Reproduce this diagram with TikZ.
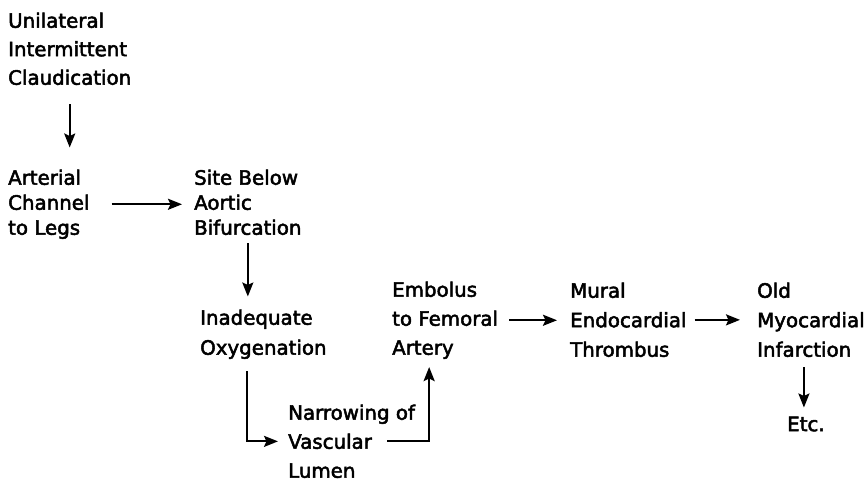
\documentclass[tikz,border=0pt]{standalone}
\usepackage{fontspec}
\setmainfont{DejaVu Sans}
\newfontfamily\lblfont{DejaVu Sans}[FakeBold=2.5]
\usetikzlibrary{arrows.meta,calc}
\begin{document}
\begin{tikzpicture}[x=1pt,y=-1pt,
  lbl/.style={anchor=north west, inner sep=0pt, align=left},
  arr/.style={line width=2.2pt, -{Stealth[length=14pt,width=11pt,inset=2.5pt]}}]
\useasboundingbox (0,0) rectangle (868,481);
\node[lbl, font=\lblfont\fontsize{19.8}{28.5}\selectfont] (uic) at (8,12.5) {Unilateral\\Intermittent\\Claudication};
\node[lbl, font=\lblfont\fontsize{19.8}{25}\selectfont] (acl) at (8,169.5) {Arterial\\Channel\\to Legs};
\node[lbl, font=\lblfont\fontsize{19.8}{25}\selectfont] (sbab) at (194,169.5) {Site Below\\Aortic\\Bifurcation};
\node[lbl, font=\lblfont\fontsize{19.8}{30}\selectfont] (io) at (200,309.5) {Inadequate\\Oxygenation};
\node[lbl, font=\lblfont\fontsize{19.8}{29}\selectfont] (now) at (288,404.5) {Narrowing of\\Vascular\\Lumen};
\node[lbl, font=\lblfont\fontsize{19.8}{29}\selectfont] (eft) at (392,281.5) {Embolus\\to Femoral\\Artery};
\node[lbl, font=\lblfont\fontsize{19.8}{29.5}\selectfont] (met) at (570,282.5) {Mural\\Endocardial\\Thrombus};
\node[lbl, font=\lblfont\fontsize{19.8}{29.5}\selectfont] (omi) at (757,282.5) {Old\\Myocardial\\Infarction};
\node[lbl, font=\lblfont\fontsize{19.8}{29.5}\selectfont] (etc) at (787,416.5) {Etc.};

\draw[arr, shorten <=19pt, shorten >=22pt] (uic.south) -- (uic.south |- acl.north);
\draw[arr, shorten <=22pt, shorten >=12pt] (acl.east) -- (acl.east -| sbab.west);
\draw[arr, shorten <=8pt, shorten >=13pt] (sbab.south) -- (sbab.south |- io.north);
\coordinate (a1) at ($(io.south west)+(47,12)$);
\draw[arr, shorten >=10pt] (a1) |- (now.west);
\coordinate (b1) at ($(now.west)+(99,0)$);
\coordinate (b2) at ($(now.east)+(14,0)$);
\draw[arr, shorten >=8pt] (b1) -- (b2) -- (b2 |- eft.south);
\draw[arr, shorten <=11pt, shorten >=13pt] (eft.east) -- (eft.east -| met.west);
\draw[arr, shorten <=8pt, shorten >=17pt] (met.east) -- (met.east -| omi.west);
\coordinate (c1) at ($(omi.south)+(-7,0)$);
\draw[arr, shorten <=10pt, shorten >=9pt] (c1) -- (c1 |- etc.north);
\end{tikzpicture}
\end{document}
